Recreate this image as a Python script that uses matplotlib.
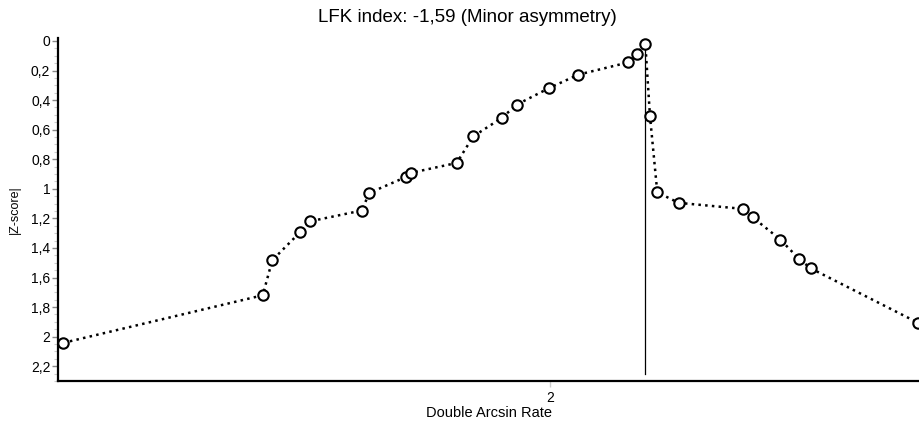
import matplotlib
matplotlib.use('Agg')
import matplotlib.pyplot as plt
from matplotlib.ticker import FixedLocator, MultipleLocator, FuncFormatter

plt.rcParams['font.family'] = ['Liberation Sans', 'DejaVu Sans']

# Doi plot data (double arcsine rate vs |Z-score|)
rate = [1.4592, 1.6808, 1.6914, 1.7222, 1.7333, 1.7908, 1.7992, 1.8400, 1.8456,
        1.8963, 1.9148, 1.9463, 1.9630, 1.9992, 2.0314, 2.0870, 2.0963, 2.1059,
        2.1111, 2.1192, 2.1430, 2.2148, 2.2252, 2.2559, 2.2767, 2.2897, 2.4092]
zscore = [2.042, 1.720, 1.483, 1.294, 1.220, 1.147, 1.028, 0.920, 0.892,
          0.825, 0.645, 0.521, 0.431, 0.318, 0.228, 0.145, 0.086, 0.018,
          0.510, 1.024, 1.095, 1.136, 1.193, 1.343, 1.474, 1.538, 1.907]

title = 'LFK index: -1,59 (Minor asymmetry)'
x_ticks = [2]
y_ticks = [0, 0.2, 0.4, 0.6, 0.8, 1, 1.2, 1.4, 1.6, 1.8, 2, 2.2]

fig = plt.figure(figsize=(9.19, 4.25), dpi=100)
ax = fig.add_axes([58 / 919, 44 / 425, 1 - 58 / 919, (381 - 38) / 425])

ax.plot(rate, zscore, color='black', linestyle=(0, (1, 1.7)), linewidth=1.8,
        marker='o', markersize=7.5, markerfacecolor='white',
        markeredgecolor='black', markeredgewidth=1.5, zorder=3)

# vertical line through the study with the smallest |Z-score|
i_min = zscore.index(min(zscore))
ax.plot([rate[i_min], rate[i_min]], [min(zscore), 2.255], color='black',
        linewidth=0.9, zorder=2)

ax.set_xlim(1.4533, 2.41)
ax.set_ylim(2.30, -0.02)

ax.xaxis.set_major_locator(FixedLocator(x_ticks))
ax.yaxis.set_major_locator(FixedLocator(y_ticks))
ax.yaxis.set_minor_locator(MultipleLocator(0.05))

fmt = FuncFormatter(lambda v, p: ('%g' % v).replace('.', ','))
ax.xaxis.set_major_formatter(fmt)
ax.yaxis.set_major_formatter(fmt)

ax.tick_params(axis='y', which='major', length=4, width=1, color='#888888',
               labelsize=10, pad=1.5)
ax.tick_params(axis='y', which='minor', length=3, width=0.8, color='#cccccc')
ax.tick_params(axis='x', which='major', length=4, width=1, color='#cccccc',
               labelsize=10, pad=3)

for s in ['top', 'right']:
    ax.spines[s].set_visible(False)
for s in ['left', 'bottom']:
    ax.spines[s].set_linewidth(1.6)
    ax.spines[s].set_color('black')

ax.set_xlabel('Double Arcsin Rate', fontsize=10.5, labelpad=1)
ax.set_ylabel('|Z-score|', fontsize=9, labelpad=7)

fig.text(467 / 919, 1 - 17 / 425, title, ha='center', va='center', fontsize=13.5)

fig.savefig('out.png', dpi=100)
